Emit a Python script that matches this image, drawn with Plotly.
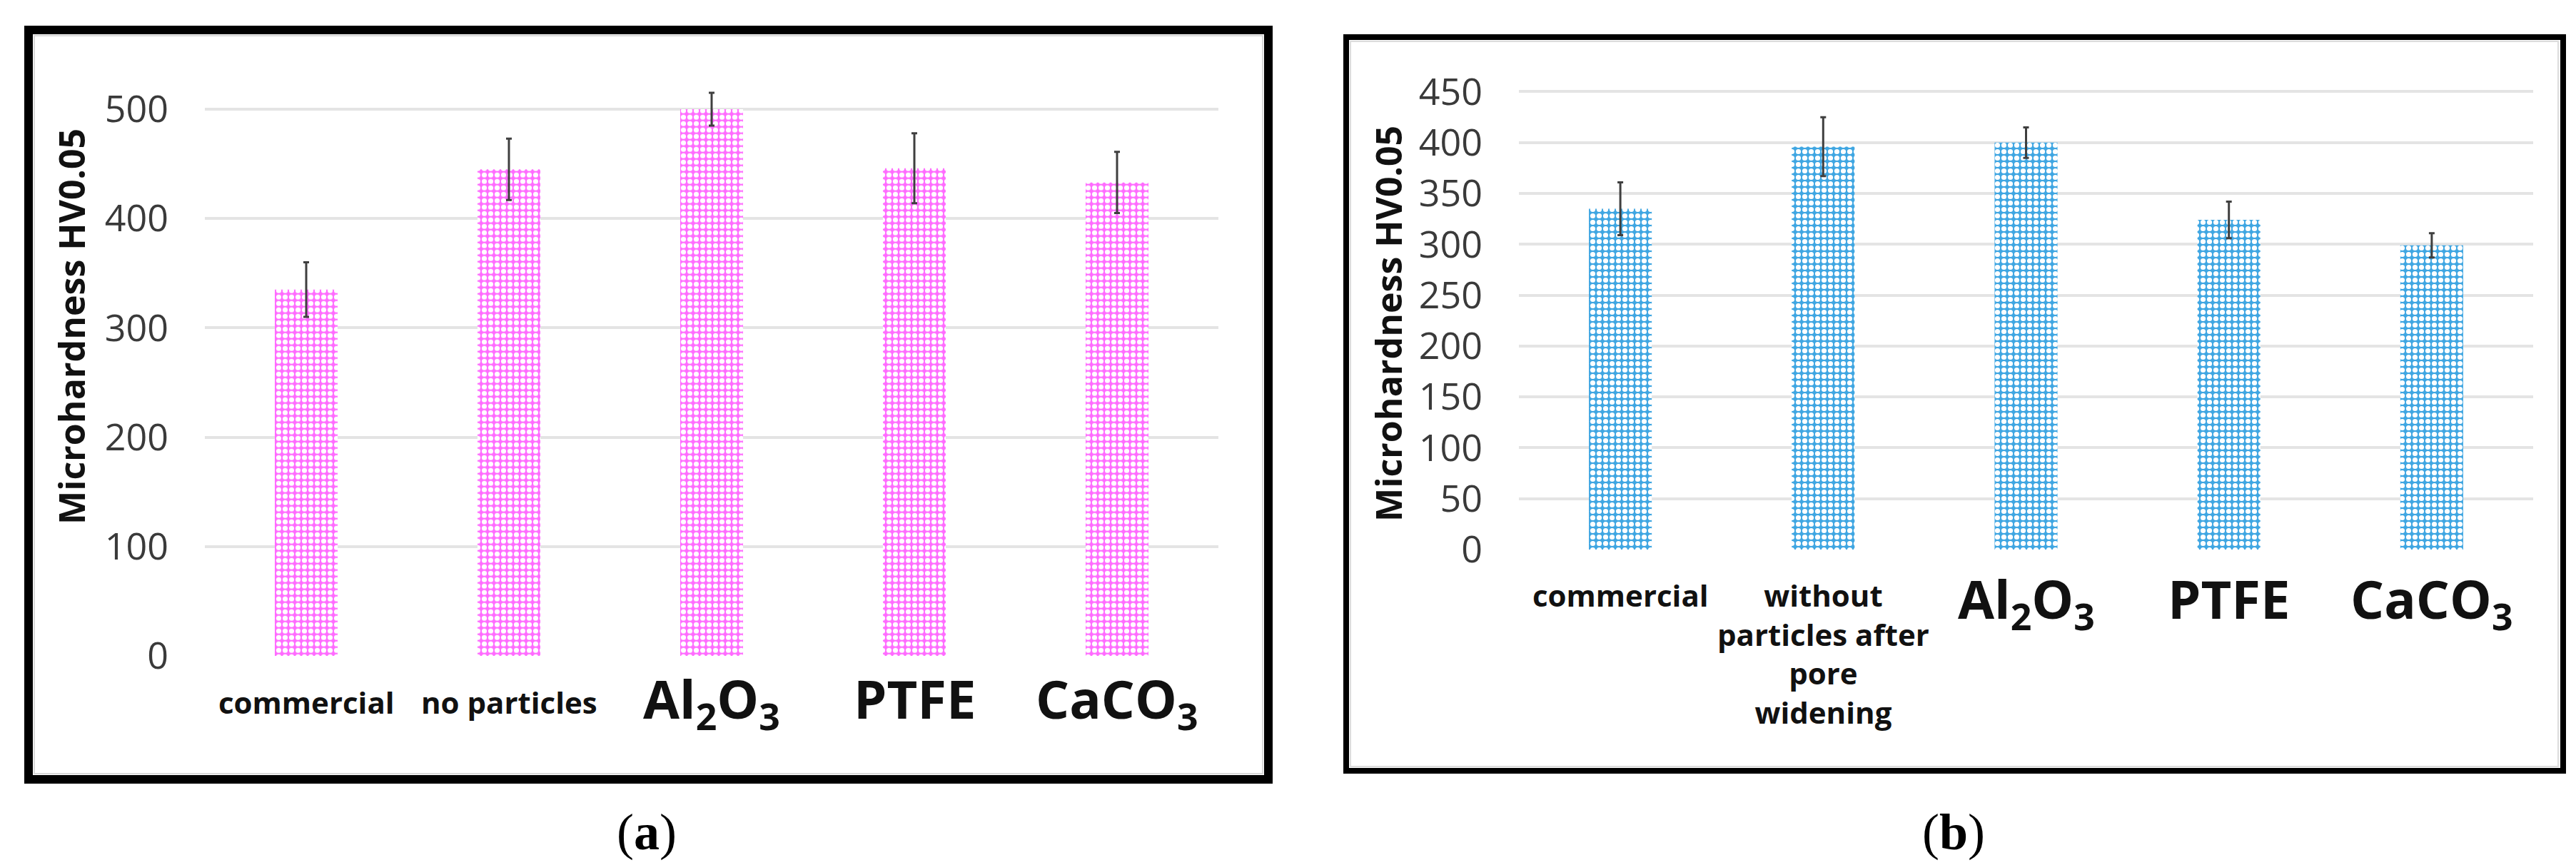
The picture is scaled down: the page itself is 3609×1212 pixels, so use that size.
import plotly.graph_objects as go

W, H = 3609, 1212

# ---- data ----
cat_a = ["commercial", "no particles", "Al2O3", "PTFE", "CaCO3"]
hv_a = [335, 445, 500, 446, 433]
err_a = [25, 28, 15, 32, 28]

cat_b = ["commercial", "without particles after pore widening", "Al2O3", "PTFE", "CaCO3"]
hv_b = [335, 396, 400, 324, 299]
err_b = [26, 29, 15, 18, 12]

# category label texts (as printed under the bars)
labels_a = ["commercial", "no particles", "Al<sub>2</sub>O<sub>3</sub>", "PTFE", "CaCO<sub>3</sub>"]
labels_b = ["commercial", "without<br>particles after<br>pore<br>widening",
            "Al<sub>2</sub>O<sub>3</sub>", "PTFE", "CaCO<sub>3</sub>"]
big_label = [False, False, True, True, True]

ytitle = "Microhardness HV0.05"


def px(x):
    return x / W


def py(y):
    return 1 - y / H


font_family = "Open Sans, DejaVu Sans, sans-serif"

fig = go.Figure()

fig.add_trace(go.Bar(
    x=cat_a, y=hv_a, width=0.31, xaxis="x", yaxis="y", cliponaxis=False,
    marker=dict(color="#FF6BFF", line=dict(width=0),
                pattern=dict(shape=".", fgcolor="white", bgcolor="#FF6BFF",
                             size=9, solidity=0.5, fillmode="replace")),
    error_y=dict(type="data", array=err_a, color="#3F3F3F", thickness=3, width=4),
    showlegend=False))

fig.add_trace(go.Bar(
    x=cat_b, y=hv_b, width=0.31, xaxis="x2", yaxis="y2", cliponaxis=False,
    marker=dict(color="#3FA6E2", line=dict(width=0),
                pattern=dict(shape=".", fgcolor="white", bgcolor="#3FA6E2",
                             size=9, solidity=0.5, fillmode="replace")),
    error_y=dict(type="data", array=err_b, color="#3F3F3F", thickness=3, width=4),
    showlegend=False))

xcommon = dict(showgrid=False, showline=False, zeroline=False, ticks="",
               showticklabels=False, automargin=False, fixedrange=True)
ycommon = dict(showgrid=True, gridcolor="#E4E4E4", gridwidth=4, showline=False,
               zeroline=False, ticks="",
               tickfont=dict(family=font_family, size=52, color="#3A3A3A"),
               automargin=False, ticklabelstandoff=50)

# panel (a): 0 at y=911 px, 500 at y=145 px -> 1.532 px per unit; range topped at 525
a_top = 911 - 525 * (911 - 145) / 500
# panel (b): 0 at y=762 px, 450 at y=120.5 px; range topped at 470
b_top = 762 - 470 * (762 - 120.5) / 450

fig.update_layout(
    width=W, height=H,
    margin=dict(l=0, r=0, t=0, b=0),
    paper_bgcolor="white", plot_bgcolor="white",
    xaxis=dict(domain=[px(279), px(1699)], anchor="y",
               categoryorder="array", categoryarray=cat_a, **xcommon),
    yaxis=dict(domain=[py(911), py(a_top)], anchor="x", range=[0, 525],
               tickmode="array", tickvals=[0, 100, 200, 300, 400, 500], **ycommon),
    xaxis2=dict(domain=[px(2120), px(3541)], anchor="y2",
                categoryorder="array", categoryarray=cat_b, **xcommon),
    yaxis2=dict(domain=[py(762), py(b_top)], anchor="x2", range=[0, 470],
                tickmode="array", tickvals=[0, 50, 100, 150, 200, 250, 300, 350, 400, 450],
                **ycommon),
)

# category labels, placed on the category axes
for xr, cats, labs, top_small, top_big in [("x", cat_a, labels_a, 946, 919),
                                           ("x2", cat_b, labels_b, 796, 779)]:
    for c, lab, isbig in zip(cats, labs, big_label):
        fig.add_annotation(x=c, xref=xr, y=py(top_big if isbig else top_small), yref="paper",
                           text="<b>" + lab.replace("<br>", "</b><br><b>") + "</b>",
                           showarrow=False, xanchor="center", yanchor="top",
                           borderpad=0,
                           font=dict(family=font_family, size=74 if isbig else 42,
                                     color="#111111"))

# y-axis titles
for xt, yt in [(92, 450), (1937, 446)]:
    fig.add_annotation(x=px(xt), y=py(yt), xref="paper", yref="paper",
                       text="<b>" + ytitle + "</b>", textangle=-90, showarrow=False,
                       font=dict(family=font_family, size=50, color="#111111"),
                       xanchor="center", yanchor="middle")

# panel captions
for xt, lab in [(898, "a"), (2729, "b")]:
    fig.add_annotation(x=px(xt), y=py(1158), xref="paper", yref="paper",
                       text="(<b>" + lab + "</b>)", showarrow=False,
                       font=dict(family="Liberation Serif, Times New Roman, serif",
                                 size=72, color="black"),
                       xanchor="center", yanchor="middle")

# frames
shapes = [
    dict(type="rect", xref="paper", yref="paper",
         x0=px(32), x1=px(1769), y0=py(1084), y1=py(34),
         line=dict(color="black", width=12), fillcolor="rgba(0,0,0,0)"),
    dict(type="rect", xref="paper", yref="paper",
         x0=px(40), x1=px(1761), y0=py(1076), y1=py(42),
         line=dict(color="#D9D9D9", width=2), fillcolor="rgba(0,0,0,0)"),
    dict(type="rect", xref="paper", yref="paper",
         x0=px(1878), x1=px(3583), y0=py(1072), y1=py(44),
         line=dict(color="black", width=8), fillcolor="rgba(0,0,0,0)"),
    dict(type="rect", xref="paper", yref="paper",
         x0=px(1884), x1=px(3576), y0=py(1066), y1=py(50),
         line=dict(color="#DCDCDC", width=2), fillcolor="rgba(0,0,0,0)"),
]
fig.update_layout(shapes=shapes)

fig.write_html("out.html")
